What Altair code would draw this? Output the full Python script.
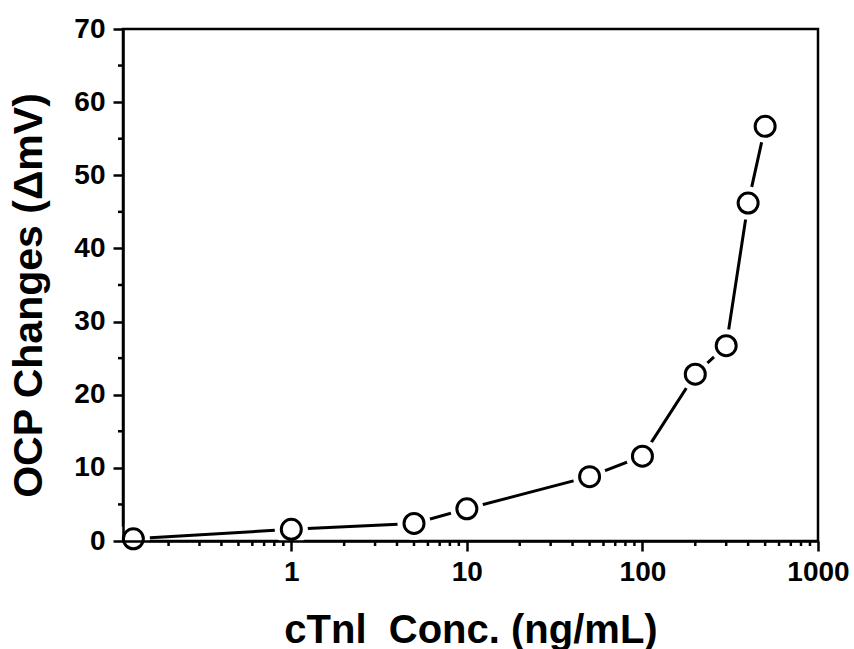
import altair as alt
import pandas as pd

# Data
conc = [0.126, 1, 5, 10, 50, 100, 200, 300, 400, 500]
ocp = [0.3, 1.6, 2.4, 4.4, 8.8, 11.6, 22.8, 26.7, 46.2, 56.7]

x_major = [1, 10, 100, 1000]
x_minor = [0.2, 0.3, 0.4, 0.5, 0.6, 0.7, 0.8, 0.9,
           2, 3, 4, 5, 6, 7, 8, 9,
           20, 30, 40, 50, 60, 70, 80, 90,
           200, 300, 400, 500, 600, 700, 800, 900]
y_major = [0, 10, 20, 30, 40, 50, 60, 70]
y_minor = [5, 15, 25, 35, 45, 55, 65]

x_title = "cTnl\u00a0 Conc. (ng/mL)"
y_title = "OCP Changes (\u0394mV)"

W, H = 695, 512
FONT = "Liberation Sans"

df = pd.DataFrame({"conc": conc, "ocp": ocp})
dfxm = pd.DataFrame({"v": x_minor})
dfym = pd.DataFrame({"v": y_minor})

xscale = alt.Scale(type="log", domain=[0.11, 1000], nice=False)
yscale = alt.Scale(domain=[0, 70], nice=False)

xaxis = alt.Axis(values=x_major, format="d", title=x_title,
                 tickSize=10, tickWidth=2.5, tickColor="black",
                 domainColor="black", domainWidth=2.5,
                 labelFont=FONT, labelFontSize=28, labelFontWeight="bold",
                 labelColor="black", labelPadding=7, labelFlush=False,
                 titleFont=FONT, titleFontSize=40, titleFontWeight="bold",
                 titleColor="black", titleBaseline="middle", titleY=89,
                 grid=False, zindex=1)
yaxis = alt.Axis(values=y_major, title=y_title,
                 tickSize=10, tickWidth=2.5, tickColor="black",
                 domainColor="black", domainWidth=2.5,
                 labelFont=FONT, labelFontSize=28, labelFontWeight="bold",
                 labelColor="black", labelPadding=8, labelFlush=False,
                 titleFont=FONT, titleFontSize=41, titleFontWeight="bold",
                 titleColor="black", titleBaseline="middle", titleX=-94,
                 titleY=266, titleAngle=270,
                 grid=False, zindex=1)

base = alt.Chart(df)
line = base.mark_line(color="black", strokeWidth=3).encode(
    x=alt.X("conc:Q", scale=xscale, axis=xaxis),
    y=alt.Y("ocp:Q", scale=yscale, axis=yaxis),
)
halo = base.mark_point(shape="circle", filled=True, color="white", size=1100, opacity=1).encode(
    x=alt.X("conc:Q", scale=xscale), y=alt.Y("ocp:Q", scale=yscale)
)
pts = base.mark_point(shape="circle", filled=False, color="black", fill="white",
                      fillOpacity=1, size=400, strokeWidth=3, opacity=1).encode(
    x=alt.X("conc:Q", scale=xscale), y=alt.Y("ocp:Q", scale=yscale)
)
xminor = alt.Chart(dfxm).mark_rule(color="black", strokeWidth=2.5).encode(
    x=alt.X("v:Q", scale=xscale),
    y=alt.value(H), y2=alt.value(H + 5),
)
yminor = alt.Chart(dfym).mark_rule(color="black", strokeWidth=2.5).encode(
    y=alt.Y("v:Q", scale=yscale),
    x=alt.value(0), x2=alt.value(-5),
)

chart = alt.layer(line, halo, pts, xminor, yminor).properties(
    width=W, height=H,
    autosize=alt.AutoSizeParams(type="none"),
    padding={"left": 123, "top": 29, "right": 854 - 123 - W, "bottom": 649 - 29 - H},
    background="white",
).configure_view(stroke="black", strokeWidth=2.5)

chart.save("out.html", embed_options={"renderer": "svg", "actions": False})
